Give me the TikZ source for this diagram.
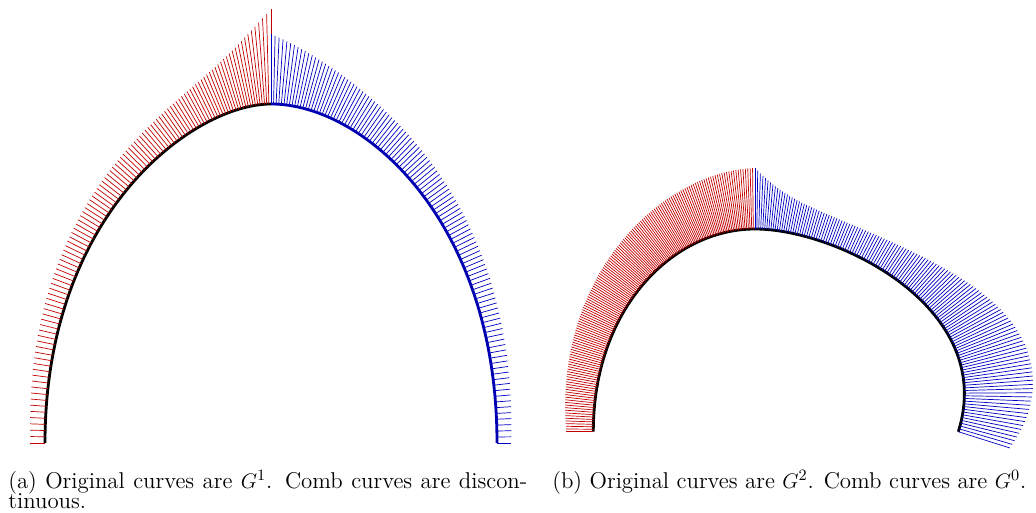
\documentclass[tikz,border=0pt]{standalone}
\usepackage{tikz}
\definecolor{CombRed}{RGB}{195,0,0}
\definecolor{CombBlue}{RGB}{0,0,195}
\definecolor{CurveBlue}{RGB}{0,0,175}
\newcommand{\capfont}{\fontsize{13}{11.6}\selectfont\setlength{\lineskiplimit}{-10pt}}
\tikzset{
	curve/.style={draw=black,line width=1.6pt},
	redcomb/.style={draw=CombRed,line width=0.4pt},
	bluecomb/.style={draw=CombBlue,line width=0.4pt},
	subcap/.style={inner sep=0pt,anchor=north west,font=\capfont},
}
% comb of a cubic: style, then x0 y0 x1 y1 x2 y2 x3 y3
\newcommand{\combsamples}{100}
\newcommand{\combscale}{0.78}
\newcommand{\drawcomb}[9]{%
	\foreach \i in {0,...,\combsamples}{
		\pgfmathsetmacro{\tpar}{\i/\combsamples}
		\pgfmathsetmacro{\spar}{1-\tpar}
		\pgfmathsetmacro{\bx}{\spar*\spar*\spar*#2+3*\spar*\spar*\tpar*#4+3*\spar*\tpar*\tpar*#6+\tpar*\tpar*\tpar*#8}
		\pgfmathsetmacro{\by}{\spar*\spar*\spar*#3+3*\spar*\spar*\tpar*#5+3*\spar*\tpar*\tpar*#7+\tpar*\tpar*\tpar*#9}
		\pgfmathsetmacro{\dx}{3*(\spar*\spar*(#4-#2)+2*\spar*\tpar*(#6-#4)+\tpar*\tpar*(#8-#6))}
		\pgfmathsetmacro{\dy}{3*(\spar*\spar*(#5-#3)+2*\spar*\tpar*(#7-#5)+\tpar*\tpar*(#9-#7))}
		\pgfmathsetmacro{\ddx}{6*(\spar*(#6-2*#4+#2)+\tpar*(#8-2*#6+#4))}
		\pgfmathsetmacro{\ddy}{6*(\spar*(#7-2*#5+#3)+\tpar*(#9-2*#7+#5))}
		\pgfmathsetmacro{\vlen}{veclen(\dx,\dy)}
		\pgfmathsetmacro{\kap}{((\dx)*(\ddy)-(\dy)*(\ddx))/(\vlen)/(\vlen)/(\vlen)}
		\pgfmathsetmacro{\tipx}{\bx+\combscale*(\kap)*(\dy)/\vlen}
		\pgfmathsetmacro{\tipy}{\by-\combscale*(\kap)*(\dx)/\vlen}
		\draw[#1] (\bx,\by) -- (\tipx,\tipy);
	}%
}

\begin{document}
\begin{tikzpicture}[x=2cm,y=2cm]
	\useasboundingbox (0,0) rectangle (10.36,5.13);
	% (a) the G1 arch
	\draw[curve] (0.45,0.70) .. controls (0.45,3.01) and (1.94,4.09) .. (2.71,4.09);
	\draw[curve,draw=CurveBlue] (2.71,4.09) .. controls (3.646,4.09) and (4.97,2.915) .. (4.97,0.70);
	\renewcommand{\combsamples}{110}
	\drawcomb{redcomb}{0.45}{0.70}{0.45}{3.01}{1.94}{4.09}{2.71}{4.09}
	\drawcomb{bluecomb}{2.71}{4.09}{3.646}{4.09}{4.97}{2.915}{4.97}{0.70}
	% (b) the G2 pair
	\draw[curve] (5.933,0.813) .. controls (5.933,2.051) and (6.73,2.84) .. (7.55,2.84);
	\draw[curve] (7.55,2.84) .. controls (8.365,2.84) and (9.976,2.058) .. (9.583,0.813);
	\renewcommand{\combsamples}{150}
	\drawcomb{redcomb}{5.933}{0.813}{5.933}{2.051}{6.73}{2.84}{7.55}{2.84}
	\renewcommand{\combsamples}{130}
	\drawcomb{bluecomb}{7.55}{2.84}{8.365}{2.84}{9.976}{2.058}{9.583}{0.813}
	% captions
	\node[subcap,text width=10.38cm,align=justify] (capa) at (0.08,0.43)
		{(a) Original curves are $G^1$. Comb curves are discon-\linebreak tinuous.};
	\node[subcap] (capb) at (5.52,0.43)
		{(b) Original curves are $G^2$. Comb curves are $G^0$.};
\end{tikzpicture}
\end{document}
